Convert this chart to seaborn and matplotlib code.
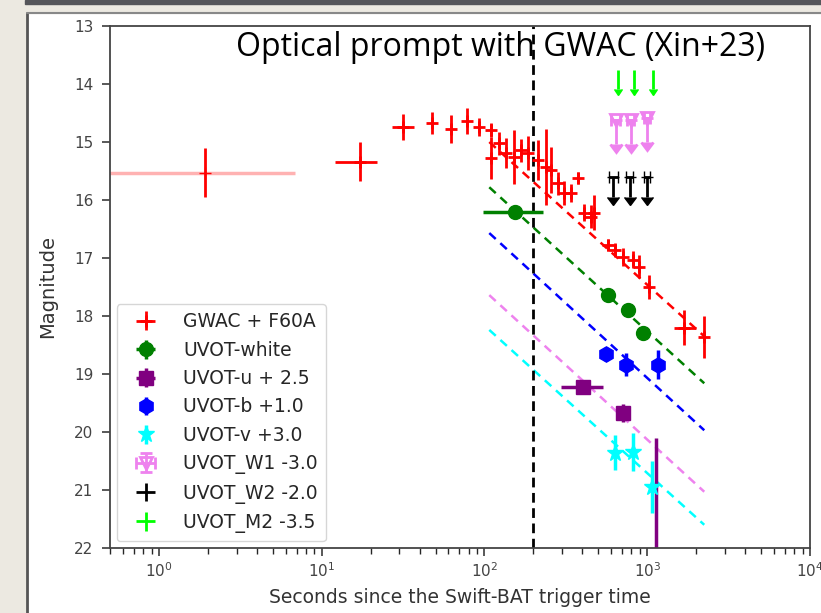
import numpy as np
import pandas as pd
import matplotlib
matplotlib.use("Agg")
import matplotlib.pyplot as plt
import seaborn as sns
from matplotlib.patches import Rectangle
from matplotlib.lines import Line2D

# GWAC + F60A optical prompt points
gwac_t = [1.92, 17.1, 31.7, 47.3, 62.1, 77.6, 93, 110, 110, 123, 136, 152, 168, 186, 214,
          240, 258, 284, 310, 342, 376, 410, 452, 472, 577, 630, 710, 815, 890, 1030, 1680, 2240]
gwac_mag = [15.53, 15.34, 14.74, 14.67, 14.78, 14.64, 14.74, 14.79, 15.28, 15.02, 15.19, 15.26, 15.14, 15.19, 15.31,
            15.43, 15.48, 15.71, 15.88, 15.88, 15.62, 16.22, 16.29, 16.22, 16.78, 16.86, 16.98, 17.03, 17.15, 17.50, 18.20, 18.36]
gwac_err = [0.42, 0.34, 0.23, 0.19, 0.24, 0.22, 0.15, 0.12, 0.36, 0.20, 0.26, 0.46, 0.20, 0.30, 0.35,
            0.65, 0.40, 0.20, 0.20, 0.15, 0.10, 0.15, 0.20, 0.30, 0.10, 0.12, 0.15, 0.15, 0.20, 0.20, 0.30, 0.36]
gwac_xlo = [1.87, 5.1, 4.7, 0, 0, 0, 0, 0, 0, 0, 0, 0, 0, 0, 0,
            0, 0, 0, 0, 0, 0, 0, 0, 0, 0, 0, 0, 0, 0, 0, 230, 0]
gwac_xhi = [4.9, 4.9, 5.3, 0, 0, 0, 0, 0, 0, 0, 0, 0, 0, 0, 0,
            0, 0, 0, 0, 0, 0, 0, 0, 0, 0, 0, 0, 0, 0, 0, 320, 0]

# UVOT detections
white_t = [153, 577, 764, 945]
white_mag = [16.20, 17.64, 17.90, 18.30]
white_err = [0.08, 0.08, 0.10, 0.10]
white_xlo = [55, 0, 0, 0]
white_xhi = [77, 0, 0, 0]

u_t = [405, 713, 1135]
u_mag = [19.22, 19.67, 22.60]
u_err = [0.10, 0.15, 2.50]
u_xlo = [108, 0, 0]
u_xhi = [132, 0, 0]

b_t = [560, 743, 1168]
b_mag = [18.66, 18.84, 18.84]
b_err = [0.12, 0.20, 0.25]

v_t = [630, 820, 1070]
v_mag = [20.36, 20.34, 20.95]
v_err = [0.30, 0.33, 0.45]

# UVOT upper limits
w1_t = [640, 790, 1000]
w1_mag = [14.62, 14.62, 14.58]
m2_t = [664, 832, 1088]
m2_mag = [13.76, 13.76, 13.76]
w2_t = [620, 780, 995]
w2_mag = [15.60, 15.60, 15.60]

# power-law decay lines (start / end)
fit_t = [107, 2240]
fit_red = [15.00, 18.35]
fit_white = [15.78, 19.16]
fit_b = [16.57, 19.97]
fit_u = [17.64, 21.03]
fit_v = [18.24, 21.60]

labels = ["GWAC + F60A", "UVOT-white", "UVOT-u + 2.5", "UVOT-b +1.0", "UVOT-v +3.0",
          "UVOT_W1 -3.0", "UVOT_W2 -2.0", "UVOT_M2 -3.5"]

sns.set_theme(style="ticks")
plt.rcParams['font.family'] = ['DejaVu Sans']

fig = plt.figure(figsize=(8.21, 6.13), dpi=100)
fig.patch.set_facecolor('white')
# slide frame around the pasted figure
fig.patches.append(Rectangle((0, 0), 27 / 821, 1, transform=fig.transFigure, color='#ece9e1', zorder=0))
fig.patches.append(Rectangle((0, 1 - 13 / 613), 1, 13 / 613, transform=fig.transFigure, color='#ece9e1', zorder=0))
fig.patches.append(Rectangle((25 / 821, 1 - 4 / 613), 1, 4 / 613, transform=fig.transFigure, color='#55565a', zorder=1))
fig.lines.append(Line2D([27 / 821, 27 / 821], [0, 1 - 13 / 613], transform=fig.transFigure, color='#555555', lw=2))
fig.lines.append(Line2D([27 / 821, 1], [1 - 13 / 613, 1 - 13 / 613], transform=fig.transFigure, color='#888888', lw=1.5))

ax = fig.add_axes([110 / 821, 1 - 548 / 613, 700 / 821, 522 / 613])
ax.set_xscale('log')
ax.set_xlim(0.5, 1e4)
ax.set_ylim(22, 13)

dash = (3.5, 2.5)
for mags, c in [(fit_red, 'red'), (fit_white, 'green'), (fit_b, 'blue'), (fit_u, 'violet'), (fit_v, 'cyan')]:
    sns.lineplot(x=fit_t, y=mags, color=c, lw=1.8, ax=ax, dashes=False, linestyle='--')
    ax.lines[-1].set_dashes(dash)

ax.axvline(200, color='black', ls='--', lw=2, dashes=(3.5, 2))

# first GWAC point: faint horizontal extent
ax.errorbar(gwac_t[:1], gwac_mag[:1], xerr=[gwac_xlo[:1], gwac_xhi[:1]], fmt='none',
            ecolor='red', alpha=0.3, elinewidth=2.5)
ax.errorbar(gwac_t[:1], gwac_mag[:1], yerr=gwac_err[:1], fmt='+', color='red', ms=8, elinewidth=2)
h_gwac = ax.errorbar(gwac_t[1:], gwac_mag[1:], yerr=gwac_err[1:], xerr=[gwac_xlo[1:], gwac_xhi[1:]],
                     fmt='+', color='red', ms=8, mew=2, elinewidth=2)

h_white = ax.errorbar(white_t, white_mag, yerr=white_err, xerr=[white_xlo, white_xhi], fmt='o',
                      color='green', ms=10, elinewidth=2.5)
h_u = ax.errorbar(u_t, u_mag, yerr=u_err, xerr=[u_xlo, u_xhi], fmt='s', color='purple', ms=10, elinewidth=2.5)
h_b = ax.errorbar(b_t, b_mag, yerr=b_err, fmt='h', color='blue', ms=11, elinewidth=2.5)
h_v = ax.errorbar(v_t, v_mag, yerr=v_err, fmt='*', color='cyan', ms=12, elinewidth=2.5)

h_w1 = ax.errorbar(w1_t, w1_mag, yerr=0.42, xerr=40, lolims=True, fmt='v', color='violet',
                   mfc='none', mew=2, ms=9, capsize=4, elinewidth=2)
ax.errorbar(w2_t, w2_mag, yerr=0.35, xerr=40, lolims=True, fmt='none', color='black', ecolor='black',
            capsize=4, elinewidth=2)
ax.errorbar(m2_t, m2_mag, yerr=0.32, lolims=True, fmt='none', color='lime', ecolor='lime',
            elinewidth=2)

# legend handles drawn like the original (cross + cap symbols)
lh_w2 = ax.errorbar([], [], yerr=[], xerr=[], fmt='none', color='black', capsize=4, elinewidth=2)
lh_m2 = ax.errorbar([], [], yerr=[], xerr=[], fmt='none', color='lime', capsize=4, elinewidth=2)
ax.legend([h_gwac, h_white, h_u, h_b, h_v, h_w1, lh_w2, lh_m2], labels, loc='lower left',
          fontsize=13.5, frameon=True, borderaxespad=0.35, handlelength=2.2, labelspacing=0.5,
          handletextpad=0.9, borderpad=0.45)

ax.set_xlabel('Seconds since the Swift-BAT trigger time', fontsize=13.5, color='#333333', labelpad=6)
ax.set_ylabel('Magnitude', fontsize=14, color='#333333', labelpad=12)
ax.set_yticks(range(13, 23))
ax.tick_params(axis='both', labelsize=11, labelcolor='#444444', color='#444444')
ax.tick_params(axis='y', pad=6)
for s in ax.spines.values():
    s.set_color('#444444')
    s.set_linewidth(1.3)

fig.text(501 / 821, 1 - 48 / 613, 'Optical prompt with GWAC (Xin+23)', ha='center', va='center',
         fontsize=23, family='Open Sans', color='black')

fig.savefig('out.png', dpi=100)
